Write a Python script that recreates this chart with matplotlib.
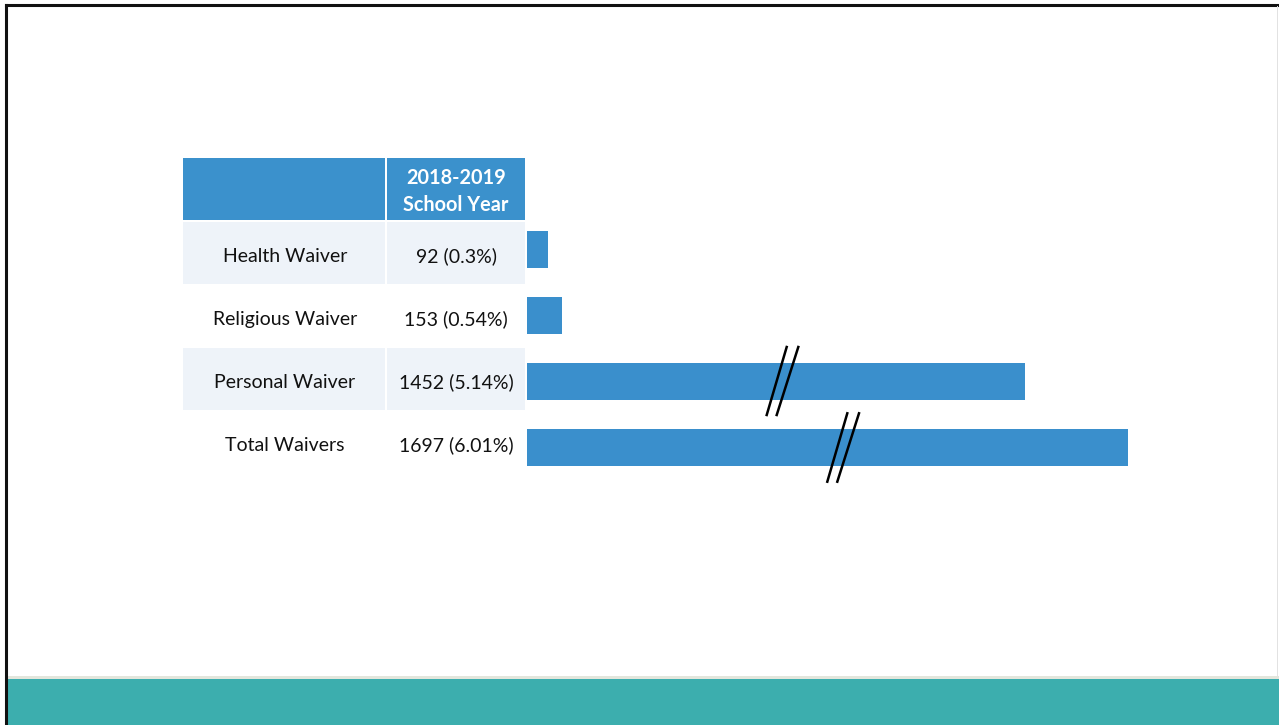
import numpy as np
import matplotlib
matplotlib.use("Agg")
import matplotlib.pyplot as plt
from matplotlib.patches import Rectangle
from matplotlib.lines import Line2D

# ---- data ----
categories = ["Health Waiver", "Religious Waiver", "Personal Waiver", "Total Waivers"]
counts = [92, 153, 1452, 1697]
percents = [0.3, 0.54, 5.14, 6.01]
header = "2018-2019\nSchool Year"

W, H = 1279, 725
fig = plt.figure(figsize=(W / 100, H / 100), dpi=100)
plt.rcParams['font.family'] = ['Lato', 'DejaVu Sans']

# background axes in pixel coordinates
bg = fig.add_axes([0, 0, 1, 1])
bg.set_xlim(0, W)
bg.set_ylim(H, 0)
bg.axis("off")
bg.set_zorder(0)

HEAD_BLUE = "#3b91cc"
BAR_BLUE = "#3a8fcc"
ROW_BG = "#eef3f9"
TEAL = "#3caeae"

# slide border
bg.add_line(Line2D([5.5, W], [4.5, 4.5], color="#111111", lw=2.2))
bg.add_line(Line2D([5.5, 5.5], [4.5, H], color="#111111", lw=2.2))
bg.add_line(Line2D([1277, 1277], [6, 676], color="#e2e2e2", lw=0.7))

# teal footer band
bg.add_patch(Rectangle((7, 679), W - 7, H - 679, color=TEAL, lw=0))
bg.add_patch(Rectangle((7, 675.5), W - 7, 3.5, color="#e3e6dc", lw=0))

# table geometry
c1x, c1w = 183, 202
c2x, c2w = 387, 138
hy, hh = 158, 61.5
row_top0, row_pitch, row_h = 221.5, 63.2, 62
FS = 14

bg.add_patch(Rectangle((c1x, hy), c1w, hh, color=HEAD_BLUE, lw=0))
bg.add_patch(Rectangle((c2x, hy), c2w, hh, color=HEAD_BLUE, lw=0))
hl = header.split("\n")
bg.text(c2x + c2w / 2, 184.3, hl[0], color="white", fontsize=14.3,
        fontweight="bold", ha="center", va="baseline")
bg.text(c2x + c2w / 2, 211, hl[1], color="white", fontsize=14.3,
        fontweight="bold", ha="center", va="baseline")

for i, (cat, n, p) in enumerate(zip(categories, counts, percents)):
    top = row_top0 + i * row_pitch
    if i % 2 == 0:
        bg.add_patch(Rectangle((c1x, top), c1w, row_h, color=ROW_BG, lw=0))
        bg.add_patch(Rectangle((c2x, top), c2w, row_h, color=ROW_BG, lw=0))
    base = 261.7 + i * 63.1
    bg.text(c1x + c1w / 2 + 1, base, cat, color="#111111", fontsize=FS,
            ha="center", va="baseline")
    bg.text(c2x + c2w / 2, base, f"{n} ({p:g}%)", color="#111111",
            fontsize=FS, ha="center", va="baseline")

# bar axes with a broken (piecewise) value scale
knot_vals = np.array([0.0, 153.0, 1452.0, 1697.0, 10000.0])
knot_pos = np.array([0.0, 35.2, 498.0, 600.5, 4071.0])

def fwd(x):
    return np.interp(x, knot_vals, knot_pos)

def inv(y):
    return np.interp(y, knot_pos, knot_vals)

ax_left, ax_w = 527, 700
pitch = 65.8
yc0 = 250.0
ax_top = yc0 - pitch / 2
ax_h = pitch * 4
ax = fig.add_axes([ax_left / W, 1 - (ax_top + ax_h) / H, ax_w / W, ax_h / H])
ax.set_xscale("function", functions=(fwd, inv))
ax.set_xlim(0, inv(ax_w))
ax.set_ylim(3.5, -0.5)
ax.barh(range(len(categories)), counts, height=37 / pitch, color=BAR_BLUE, lw=0)
ax.axis("off")
ax.patch.set_alpha(0)
ax.set_zorder(1)

# overlay for break marks above the bars
ov = fig.add_axes([0, 0, 1, 1])
ov.set_xlim(0, W)
ov.set_ylim(H, 0)
ov.axis("off")
ov.patch.set_alpha(0)
ov.set_zorder(2)
for (x1, y1, x2, y2) in [(766.7, 415, 786.7, 347), (776.7, 415, 798.3, 347),
                         (827.3, 481.7, 847.3, 413.3), (837.3, 481.7, 859, 413.3)]:
    ov.add_line(Line2D([x1, x2], [y1, y2], color="black", lw=1.8))

fig.savefig("out.png", dpi=100)
